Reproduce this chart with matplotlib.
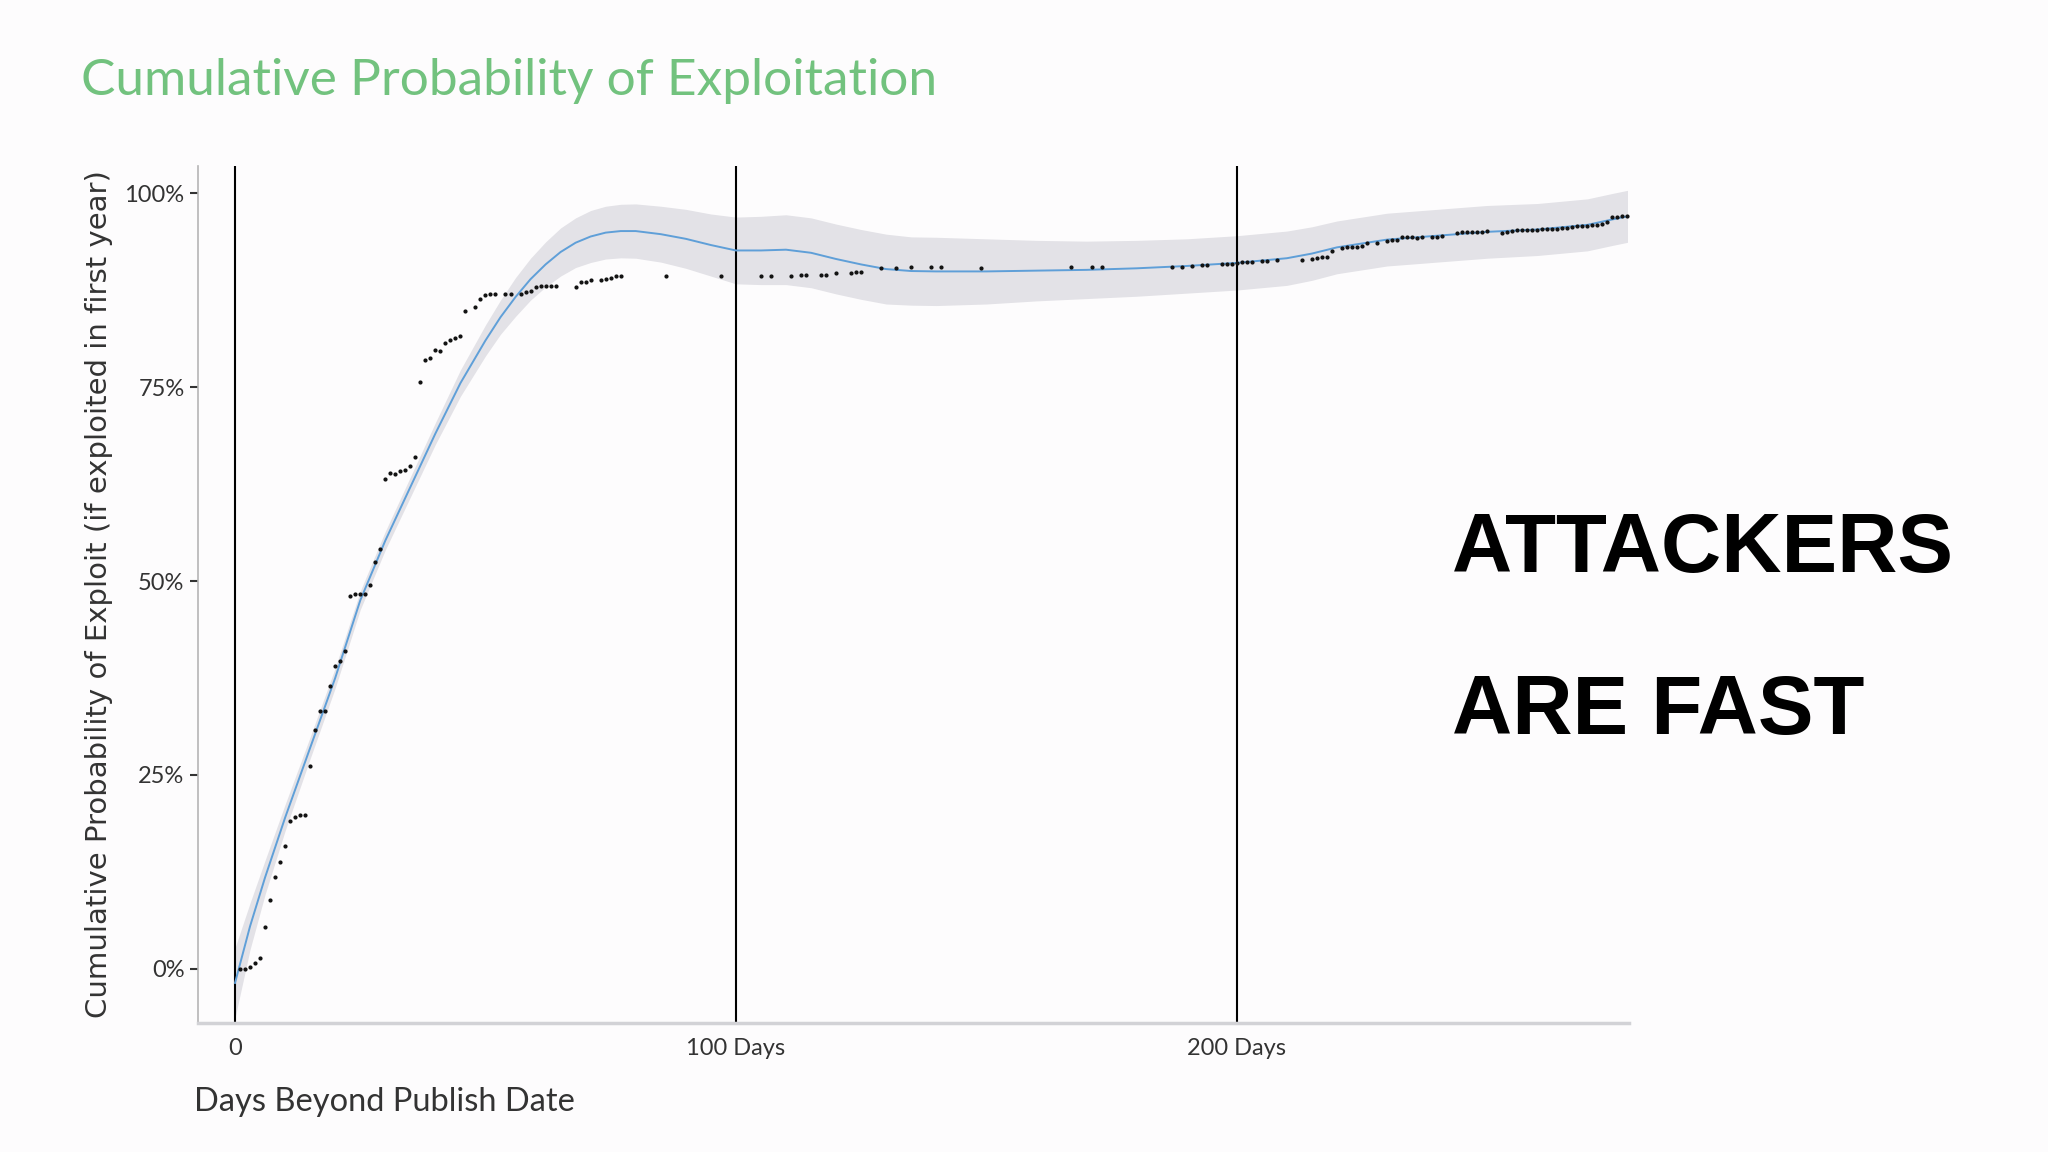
import numpy as np
import matplotlib
matplotlib.use("Agg")
import matplotlib.pyplot as plt

# observed cumulative share of exploits (days after publish, percent)
obs_days = [1, 2, 3, 4, 5, 6, 7, 8, 9, 10, 11, 12, 13, 14, 15, 16, 17, 18, 19, 20,
            21, 22, 23, 24, 25, 26, 27, 28, 29, 30, 31, 32, 33, 34, 35, 36, 37, 38, 39, 40,
            41, 42, 43, 44, 45, 46, 48, 49, 50, 51, 52, 54, 55, 57, 58, 59, 60, 61, 62, 63,
            64, 68, 69, 70, 71, 73, 74, 75, 76, 77, 86, 97, 105, 107, 111, 113, 114, 117, 118, 120,
            123, 124, 125, 129, 132, 135, 139, 141, 149, 167, 171, 173, 187, 189, 191, 193, 194, 197, 198, 199,
            200, 201, 202, 203, 205, 206, 208, 213, 215, 216, 217, 218, 219, 221, 222, 223, 224, 225, 226, 228,
            230, 231, 232, 233, 234, 235, 236, 237, 239, 240, 241, 244, 245, 246, 247, 248, 249, 250, 253, 254,
            255, 256, 257, 258, 259, 260, 261, 262, 263, 264, 265, 266, 267, 268, 269, 270, 271, 272, 273, 274,
            275, 276, 277, 278]
obs_pct = [0.0, 0.0, 0.3, 0.8, 1.4, 5.4, 8.9, 11.8, 13.8, 15.9, 19.1, 19.6, 19.8, 19.8, 26.2, 30.8, 33.2, 33.2, 36.5, 39.1,
           39.7, 41.0, 48.1, 48.3, 48.3, 48.3, 49.5, 52.5, 54.1, 63.1, 63.9, 63.8, 64.2, 64.3, 64.8, 66.0, 75.7, 78.5, 78.7, 79.8,
           79.7, 80.7, 81.1, 81.3, 81.6, 84.8, 85.3, 86.4, 86.8, 87.0, 87.0, 87.0, 87.0, 87.0, 87.2, 87.4, 87.9, 88.0, 88.0, 88.0,
           88.0, 87.9, 88.5, 88.6, 88.8, 88.8, 88.9, 89.1, 89.3, 89.3, 89.3, 89.3, 89.3, 89.3, 89.3, 89.5, 89.5, 89.5, 89.5, 89.7,
           89.7, 89.8, 89.8, 90.3, 90.3, 90.5, 90.5, 90.5, 90.3, 90.5, 90.5, 90.5, 90.5, 90.5, 90.6, 90.7, 90.7, 90.8, 90.8, 90.9,
           91.0, 91.1, 91.1, 91.1, 91.2, 91.2, 91.4, 91.4, 91.5, 91.6, 91.7, 91.8, 92.5, 92.9, 93.1, 93.1, 93.1, 93.2, 93.6, 93.6,
           93.8, 93.9, 94.0, 94.3, 94.3, 94.3, 94.2, 94.3, 94.3, 94.3, 94.4, 94.9, 95.0, 95.0, 95.0, 95.0, 95.0, 95.1, 94.9, 95.0,
           95.1, 95.2, 95.2, 95.2, 95.2, 95.2, 95.4, 95.4, 95.4, 95.4, 95.5, 95.5, 95.6, 95.7, 95.7, 95.8, 95.9, 95.9, 96.0, 96.3,
           96.9, 96.9, 97.0, 97.0]

# smoothed fit and half-width of its confidence band
fit_days = [0, 3, 6, 10, 15, 20, 25, 30, 35, 40, 45, 50, 53, 56, 59, 62, 65, 68, 71, 74,
            77, 80, 85, 90, 95, 100, 105, 110, 115, 120, 125, 130, 135, 140, 150, 160, 170, 180, 190, 200,
            210, 215, 220, 225, 230, 240, 250, 260, 270, 275, 278]
fit_pct = [-1.8, 5.5, 11.8, 19.5, 28.5, 37.5, 47.5, 55.2, 62.1, 69.0, 75.5, 81.0, 84.0, 86.6, 88.9, 90.8, 92.4, 93.6, 94.4, 94.9,
           95.1, 95.1, 94.7, 94.1, 93.3, 92.6, 92.6, 92.7, 92.3, 91.5, 90.8, 90.2, 89.95, 89.9, 89.9, 90.0, 90.1, 90.3, 90.6, 91.0,
           91.6, 92.2, 93.0, 93.5, 94.0, 94.5, 95.0, 95.3, 95.9, 96.6, 97.0]
fit_se = [4.5, 3.0, 2.2, 1.7, 1.4, 1.3, 1.2, 1.2, 1.3, 1.4, 1.7, 2.0, 2.2, 2.5, 2.7, 2.9, 3.1, 3.2, 3.35, 3.4,
          3.45, 3.5, 3.6, 3.8, 4.0, 4.3, 4.4, 4.5, 4.5, 4.5, 4.5, 4.5, 4.4, 4.4, 4.2, 3.9, 3.7, 3.6, 3.5, 3.5,
          3.5, 3.45, 3.4, 3.4, 3.4, 3.4, 3.4, 3.35, 3.35, 3.35, 3.35]

y_ticks = [0, 25, 50, 75, 100]
y_labels = ["0%", "25%", "50%", "75%", "100%"]
x_ticks = [0, 100, 200]
x_labels = ["0", "100 Days", "200 Days"]

narrow = ["Lato", "DejaVu Sans"]

fig = plt.figure(figsize=(20.48, 11.52), dpi=100, facecolor="#fdfcfd")
ax = fig.add_axes([0.0969, 0.112, 0.6985, 0.744])
ax.set_facecolor("#fdfcfd")

fit_days_a = np.array(fit_days)
fit_pct_a = np.array(fit_pct)
fit_se_a = np.array(fit_se)
ax.fill_between(fit_days_a, fit_pct_a - fit_se_a, fit_pct_a + fit_se_a,
                color="#e3e2e7", lw=0, zorder=1)
ax.plot(fit_days_a, fit_pct_a, color="#5f9fd8", lw=1.4, zorder=3)
ax.plot(obs_days, obs_pct, ls="none", marker="o", ms=2.0, color="#111111", zorder=4)

for d in x_ticks:
    ax.axvline(d, color="black", lw=1.5, zorder=2)

ax.set_xlim(-7.3, 278.3)
ax.set_ylim(-6.96, 103.5)

for s in ["top", "right"]:
    ax.spines[s].set_visible(False)
ax.spines["left"].set_color("#b5b5b5")
ax.spines["left"].set_linewidth(1.2)
ax.spines["bottom"].set_color("#d2d2d6")
ax.spines["bottom"].set_linewidth(2.5)

ax.set_yticks(y_ticks)
ax.set_yticklabels(y_labels, family=narrow, fontsize=17, color="#333333")
ax.set_xticks(x_ticks)
ax.set_xticklabels(x_labels, family=narrow, fontsize=17, color="#333333")
ax.tick_params(axis="y", length=6, width=1.5, color="#333333", pad=4)
ax.tick_params(axis="x", length=0, pad=11)

ax.set_ylabel("Cumulative Probability of Exploit (if exploited in first year)",
              fontsize=21, color="#333333", labelpad=8)
ax.set_xlabel("Days Beyond Publish Date", family=narrow, fontsize=23.5,
              color="#333333")
ax.xaxis.set_label_coords(-0.003, -0.075, transform=ax.transAxes)
ax.xaxis.label.set_horizontalalignment("left")

fig.text(0.0396, 0.930, "Cumulative Probability of Exploitation", family=narrow,
         fontsize=37, color="#72c27e", va="center", ha="left")

fig.text(0.709, 0.523, "ATTACKERS", family="Liberation Sans", weight="bold",
         fontsize=60, color="black", va="center", ha="left")
fig.text(0.709, 0.382, "ARE FAST", family="Liberation Sans", weight="bold",
         fontsize=60, color="black", va="center", ha="left")

fig.savefig("out.png", dpi=100, facecolor=fig.get_facecolor())
